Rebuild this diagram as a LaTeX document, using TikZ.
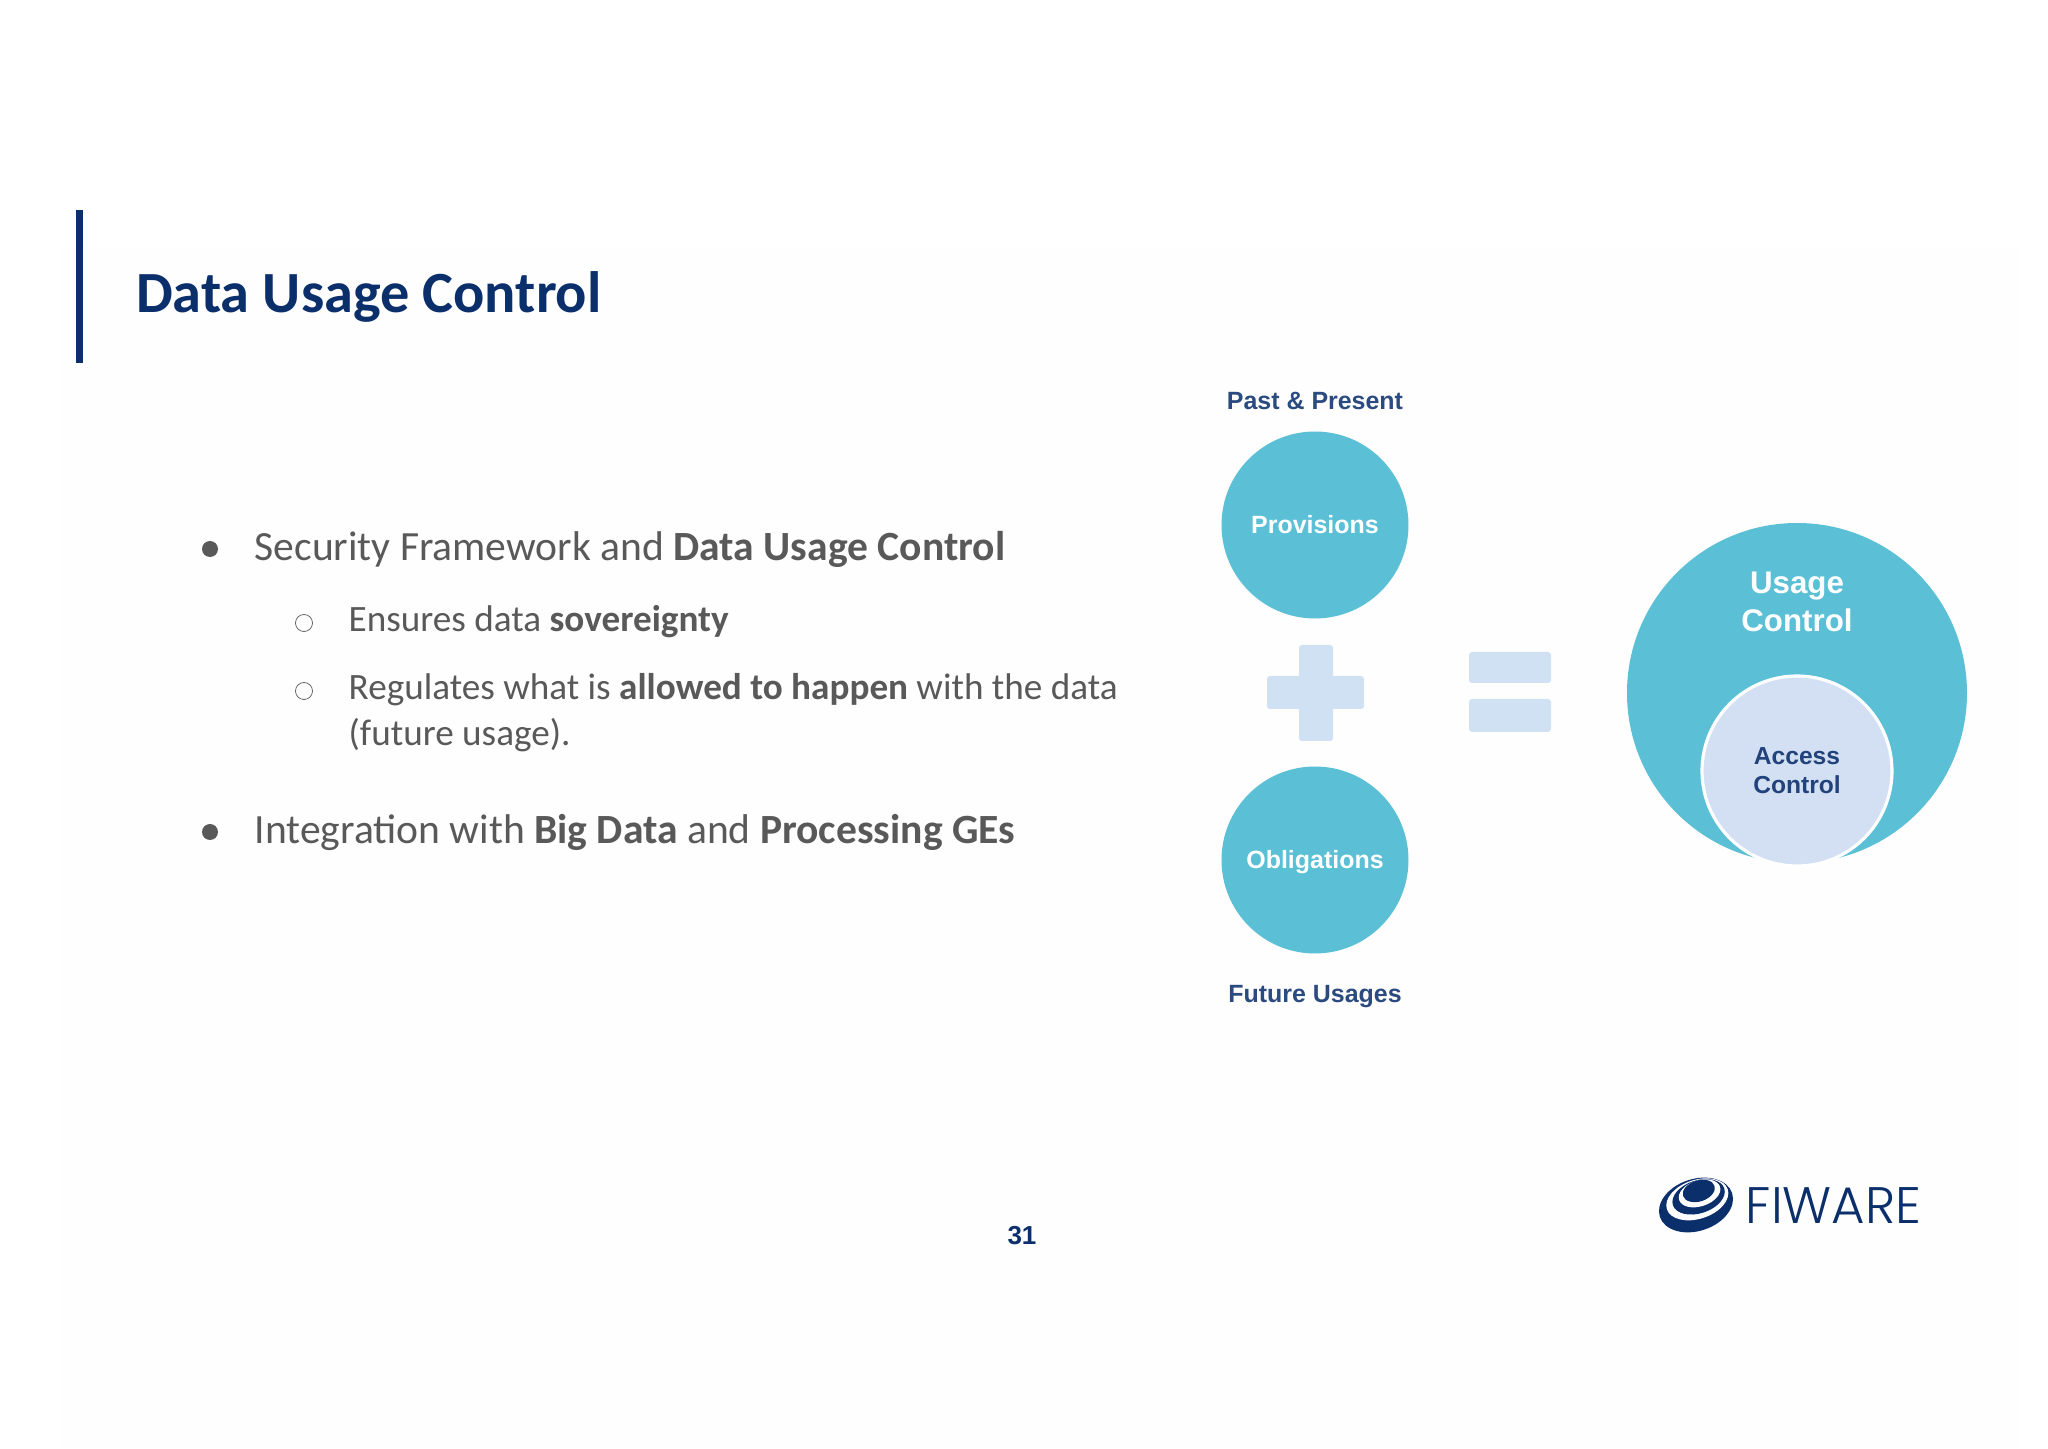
\documentclass[tikz,border=0pt]{standalone}
\usepackage{fontspec}
\usepackage{xcolor}
\usepackage{tikz}
\usetikzlibrary{positioning}
\setmainfont{Carlito}
\newfontfamily\labelfont{Liberation Sans}
\newfontfamily\logofont{Poppins Light}
\definecolor{fiblue}{HTML}{0B2F6B}
\definecolor{labelblue}{HTML}{2A4A80}
\definecolor{bodygray}{HTML}{595959}
\definecolor{tealfill}{HTML}{5BC0D6}
\definecolor{signfill}{HTML}{CFE1F3}
\definecolor{accessfill}{HTML}{D3E0F3}
\definecolor{pagefill}{HTML}{FEFEFE}
\tikzset{
  bodytext/.style={inner sep=0, anchor=base west, text=bodygray},
  mainitem/.style={bodytext, font=\fontsize{11.83}{14}\selectfont},
  subitem/.style={bodytext, font=\fontsize{10.58}{12}\selectfont},
  disc/.style={circle, fill=bodygray, inner sep=0, minimum size=1.6mm},
  ring/.style={circle, draw=bodygray, very thin, inner sep=0, minimum size=1.7mm},
  teal/.style={circle, fill=tealfill, inner sep=0, text=white, align=center, text height=6pt, text depth=1pt,
    font=\labelfont\bfseries\fontsize{7.1}{8.5}\selectfont},
  caption/.style={inner sep=0, text=labelblue, font=\labelfont\bfseries\fontsize{7.1}{8.5}\selectfont},
}
\begin{document}
\begin{tikzpicture}
\useasboundingbox (0,0) rectangle (20.48,14.48);
\fill [white] (0,0) rectangle (20.48,14.48);
\fill [pagefill] (0.6,0) rectangle (20.2,12);

% title
\fill [fiblue] (0.76,10.85) rectangle (0.83,12.38);
\node [inner sep=0, anchor=base west, text=fiblue, font=\fontsize{16.6}{19}\bfseries\selectfont] (title) at (1.355,11.35) {Data Usage Control};

% left text
\node [disc] (dota) at (2.10,8.99) {};
\node [mainitem] (itema) at (2.54,8.87) {Security Framework and \textbf{Data Usage Control}};
\node [ring] (ringa) at (3.04,8.25) {};
\node [subitem] (suba) at (3.48,8.16) {Ensures data \textbf{sovereignty}};
\node [ring] (ringb) at (3.04,7.57) {};
\node [subitem] (subb) at (3.48,7.48) {Regulates what is \textbf{allowed to happen} with the data};
\node [subitem] (subc) at (3.48,7.02) {(future usage).};
\node [disc] (dotb) at (2.10,6.16) {};
\node [mainitem] (itemb) at (2.54,6.04) {Integration with \textbf{Big Data} and \textbf{Processing GEs}};

% provisions + obligations
\node [teal, minimum size=18.7mm] (provisions) at (13.15,9.23) {Provisions};
\node [teal, minimum size=18.7mm] (obligations) at (13.15,5.88) {Obligations};
\node [caption, above=0.20 of provisions] (past) {Past \& Present};
\node [caption, below=0.30 of obligations] (future) {Future Usages};

% plus and equals
\fill [signfill, rounded corners=0.3mm] (12.67,7.39) rectangle (13.64,7.72);
\fill [signfill, rounded corners=0.3mm] (12.99,7.07) rectangle (13.33,8.03);
\fill [signfill, rounded corners=0.3mm] (14.69,7.65) rectangle (15.51,7.96);
\fill [signfill, rounded corners=0.3mm] (14.69,7.16) rectangle (15.51,7.49);

% result
\node [circle, fill=tealfill, inner sep=0, minimum size=34mm] (usage) at (17.97,7.55) {};
\node [inner sep=0, text=white, align=center, font=\labelfont\bfseries\fontsize{8.9}{10.8}\selectfont] (usagelabel) at (17.97,8.46) {Usage\\Control};
\node [circle, fill=accessfill, draw=white, line width=0.9pt, inner sep=0, minimum size=19mm] (access) at (17.97,6.77) {};
\node [inner sep=0, text=labelblue!70!fiblue, align=center, font=\labelfont\bfseries\fontsize{7}{8.2}\selectfont] (accesslabel) at (17.97,6.77) {Access\\Control};

% logo
\begin{scope}[shift={(16.96,2.43)}, rotate=18]
\fill [fiblue] (0,0) ellipse (0.38 and 0.26);
\fill [pagefill] (0.03,0.05) ellipse (0.32 and 0.195);
\fill [fiblue] (0.05,0.07) ellipse (0.27 and 0.165);
\fill [pagefill] (0.07,0.10) ellipse (0.215 and 0.13);
\fill [fiblue] (0.07,0.125) ellipse (0.165 and 0.105);
\end{scope}
\node [inner sep=0, anchor=base west, text=fiblue, font=\logofont\fontsize{14.6}{18}\selectfont] (logotext) at (17.45,2.25) {FIWARE};

% page number
\node [inner sep=0, text=fiblue, font=\labelfont\bfseries\fontsize{7.4}{9}\selectfont] (pagenum) at (10.22,2.12) {31};
\end{tikzpicture}
\end{document}
